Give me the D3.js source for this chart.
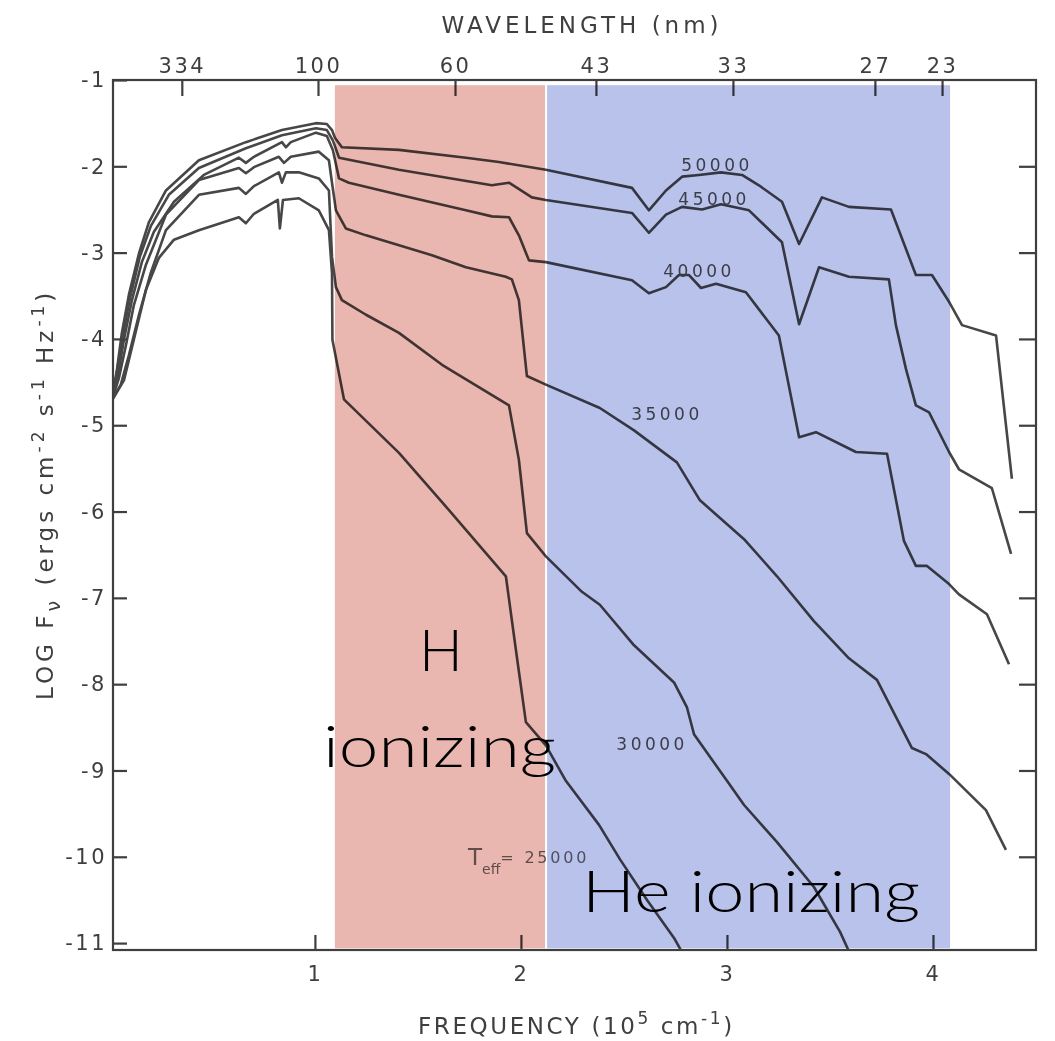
<!DOCTYPE html>
<html>
<head>
<meta charset="utf-8">
<script src="https://cdn.jsdelivr.net/npm/d3@7"></script>
<style>
  body { margin: 0; background: #fff; }
  svg text { font-family: "DejaVu Sans", sans-serif; }
  svg text.big { font-family: Lato, sans-serif; font-weight: 300; }
</style>
</head>
<body>
<svg id="chart"></svg>
<script>
// model atmospheres, effective temperature (K)
var temps = [50000, 45000, 40000, 35000, 30000, 25000];

// frequency (10^5 cm^-1) and log F_nu
var nu50 = [0.015,0.039,0.063,0.097,0.146,0.194,0.277,0.437,0.665,0.840,1.005,1.058,1.083,1.097,1.131,1.408,1.733,1.893,2.121,2.539,2.621,2.704,2.782,2.864,2.971,3.073,3.155,3.267,3.350,3.461,3.592,3.796,3.917,3.995,4.078,4.141,4.306,4.383];
var logF50 = [-4.71,-4.36,-3.93,-3.49,-3.01,-2.65,-2.28,-1.93,-1.72,-1.58,-1.50,-1.51,-1.58,-1.67,-1.78,-1.81,-1.90,-1.95,-2.04,-2.25,-2.51,-2.28,-2.12,-2.10,-2.07,-2.10,-2.22,-2.41,-2.90,-2.36,-2.47,-2.50,-3.26,-3.26,-3.57,-3.84,-3.96,-5.62];

var nu45 = [0.015,0.039,0.068,0.102,0.150,0.204,0.291,0.437,0.665,0.840,1.005,1.058,1.087,1.117,1.408,1.859,1.942,2.053,2.121,2.539,2.621,2.704,2.782,2.879,2.971,3.107,3.267,3.350,3.447,3.592,3.786,3.820,3.869,3.917,3.981,4.078,4.126,4.286,4.379];
var logF45 = [-4.71,-4.38,-3.96,-3.53,-3.05,-2.69,-2.33,-2.02,-1.79,-1.64,-1.56,-1.58,-1.70,-1.90,-2.04,-2.22,-2.19,-2.36,-2.39,-2.54,-2.77,-2.56,-2.47,-2.50,-2.44,-2.51,-2.88,-3.83,-3.17,-3.28,-3.31,-3.84,-4.35,-4.77,-4.85,-5.31,-5.51,-5.73,-6.49];

var nu40 = [0.015,0.044,0.073,0.112,0.160,0.218,0.316,0.461,0.631,0.665,0.704,0.840,0.859,0.883,1.005,1.058,1.087,1.117,1.165,1.408,1.733,1.859,1.942,1.990,2.039,2.121,2.539,2.621,2.704,2.767,2.816,2.874,2.947,3.092,3.252,3.350,3.432,3.626,3.777,3.859,3.917,3.971,4.078,4.126,4.262,4.369];
var logF40 = [-4.71,-4.42,-4.01,-3.55,-3.11,-2.76,-2.41,-2.10,-1.90,-1.96,-1.89,-1.72,-1.78,-1.72,-1.61,-1.65,-1.81,-2.14,-2.19,-2.33,-2.51,-2.58,-2.59,-2.80,-3.09,-3.11,-3.32,-3.47,-3.40,-3.26,-3.26,-3.41,-3.36,-3.46,-3.96,-5.14,-5.08,-5.31,-5.33,-6.34,-6.63,-6.63,-6.84,-6.96,-7.19,-7.77];

var nu35 = [0.015,0.049,0.083,0.121,0.180,0.277,0.437,0.631,0.665,0.704,0.825,0.850,0.883,1.019,1.068,1.083,1.102,1.150,1.248,1.568,1.733,1.927,1.956,1.990,2.029,2.121,2.383,2.549,2.757,2.869,3.083,3.243,3.422,3.592,3.728,3.898,3.966,4.078,4.257,4.354];
var logF35 = [-4.71,-4.45,-4.07,-3.61,-3.14,-2.56,-2.16,-2.02,-2.08,-2.01,-1.89,-1.96,-1.89,-1.83,-1.93,-2.19,-2.51,-2.72,-2.80,-3.03,-3.17,-3.28,-3.31,-3.55,-4.43,-4.53,-4.80,-5.06,-5.43,-5.87,-6.32,-6.75,-7.27,-7.70,-7.95,-8.74,-8.81,-9.04,-9.46,-9.92];

var nu30 = [0.015,0.058,0.097,0.146,0.204,0.277,0.437,0.631,0.665,0.704,0.825,0.840,0.859,0.922,1.019,1.068,1.083,1.102,1.131,1.248,1.408,1.617,1.942,1.990,2.029,2.121,2.296,2.383,2.549,2.743,2.806,2.840,3.000,3.083,3.243,3.422,3.549,3.631];
var logF30 = [-4.71,-4.53,-4.19,-3.72,-3.23,-2.74,-2.33,-2.25,-2.32,-2.23,-2.07,-2.19,-2.07,-2.07,-2.14,-2.28,-3.05,-3.40,-3.55,-3.72,-3.93,-4.30,-4.77,-5.40,-6.25,-6.52,-6.93,-7.08,-7.55,-7.98,-8.27,-8.58,-9.12,-9.40,-9.83,-10.35,-10.87,-11.30];

var nu25 = [0.015,0.073,0.121,0.180,0.243,0.316,0.437,0.631,0.665,0.704,0.820,0.830,0.845,0.922,1.019,1.068,1.083,1.085,1.141,1.408,1.617,1.927,1.976,2.024,2.121,2.218,2.379,2.481,2.612,2.743,2.816];
var logF25 = [-4.71,-4.48,-4.01,-3.43,-3.06,-2.85,-2.74,-2.59,-2.66,-2.55,-2.39,-2.72,-2.39,-2.37,-2.51,-2.74,-3.24,-4.01,-4.70,-5.32,-5.89,-6.75,-7.61,-8.44,-8.71,-9.12,-9.63,-10.03,-10.50,-10.94,-11.25];

// tick labels
var yTicks = [-1,-2,-3,-4,-5,-6,-7,-8,-9,-10,-11];
var xTicks = [1, 2, 3, 4];
var wlLabels = [334, 100, 60, 43, 33, 27, 23];           // nm
var wlFreq = [0.354, 1.015, 1.68, 2.364, 3.029, 3.718, 4.044];

// ionizing bands (frequency range)
var bandNames = ['H', 'He'];
var bandStart = [1.097, 2.127];
var bandEnd = [2.117, 4.083];
var bandColors = ['#e9b7b0', '#b9c2ea'];

var width = 1055;
var height = 1041;
var plot = {left: 113, right: 1036, top: 80, bottom: 950};
var ink = '#3f3f3f';

var x = d3.scaleLinear().domain([0.02, 4.5]).range([plot.left, plot.right]);
var y = d3.scaleLinear().domain([-1, -11.08]).range([plot.top, plot.bottom]);

var svg = d3.select('#chart')
    .attr('width', width)
    .attr('height', height);

svg.append('rect')
    .attr('width', width)
    .attr('height', height)
    .attr('fill', '#fff');

svg.append('clipPath')
    .attr('id', 'plotclip')
  .append('rect')
    .attr('x', plot.left)
    .attr('y', plot.top)
    .attr('width', plot.right - plot.left)
    .attr('height', plot.bottom - plot.top);

var nus = [nu50, nu45, nu40, nu35, nu30, nu25];
var logs = [logF50, logF45, logF40, logF35, logF30, logF25];
var series = temps.map(function(t, i) {
  return {t: t, pts: d3.zip(nus[i], logs[i])};
});

var line = d3.line()
    .x(d => x(d[0]))
    .y(d => y(d[1]));

svg.append('g')
    .attr('clip-path', 'url(#plotclip)')
  .selectAll('path')
  .data(series)
  .enter()
  .append('path')
    .attr('d', d => line(d.pts))
    .attr('fill', 'none')
    .attr('stroke', '#474747')
    .attr('stroke-width', 2.6)
    .attr('stroke-linejoin', 'round');

// frame
svg.append('rect')
    .attr('x', plot.left)
    .attr('y', plot.top)
    .attr('width', plot.right - plot.left)
    .attr('height', plot.bottom - plot.top)
    .attr('fill', 'none')
    .attr('stroke', ink)
    .attr('stroke-width', 2.2);

function styleAxis(g) {
  g.select('.domain').remove();
  g.selectAll('.tick line').attr('stroke', ink).attr('stroke-width', 2.2);
  g.selectAll('.tick text')
      .attr('fill', ink)
      .style('font-size', '21px')
      .style('letter-spacing', '2.5px');
}

svg.append('g')
    .attr('transform', 'translate(' + plot.left + ',0)')
    .call(d3.axisLeft(y).tickValues(yTicks).tickSizeInner(-14).tickSizeOuter(0)
      .tickPadding(6).tickFormat(d => String(d)))
    .call(styleAxis);

svg.append('g')
    .attr('transform', 'translate(' + plot.right + ',0)')
    .call(d3.axisRight(y).tickValues(yTicks.slice(1, -1)).tickSizeInner(-17).tickSizeOuter(0)
      .tickFormat(''))
    .call(styleAxis);

svg.append('g')
    .attr('transform', 'translate(0,' + plot.bottom + ')')
    .call(d3.axisBottom(x).tickValues(xTicks).tickSizeInner(-15).tickSizeOuter(0)
      .tickPadding(16).tickFormat(d3.format('d')))
    .call(styleAxis);

svg.append('g')
    .attr('transform', 'translate(0,' + plot.top + ')')
    .call(d3.axisTop(x).tickValues(wlFreq).tickSizeInner(-16).tickSizeOuter(0)
      .tickPadding(7).tickFormat((d, i) => wlLabels[i]))
    .call(styleAxis);

// axis titles
svg.append('text')
    .attr('x', 582)
    .attr('y', 33)
    .attr('text-anchor', 'middle')
    .attr('fill', ink)
    .style('font-size', '23px')
    .style('letter-spacing', '4px')
    .text('WAVELENGTH (nm)');

var xt = svg.append('text')
    .attr('x', 418)
    .attr('y', 1034)
    .attr('fill', ink)
    .style('font-size', '23px')
    .style('letter-spacing', '2.6px');
xt.append('tspan').text('FREQUENCY (10');
xt.append('tspan').attr('dy', -10).style('font-size', '17px').text('5');
xt.append('tspan').attr('dy', 10).text(' cm');
xt.append('tspan').attr('dy', -10).style('font-size', '17px').text('-1');
xt.append('tspan').attr('dy', 10).text(')');

var yt = svg.append('text')
    .attr('transform', 'translate(53,700) rotate(-90)')
    .attr('fill', ink)
    .style('font-size', '23px')
    .style('letter-spacing', '4px');
yt.append('tspan').text('LOG F');
yt.append('tspan').attr('dy', 7).style('font-size', '19px').text('\u03bd');
yt.append('tspan').attr('dy', -7).text(' (ergs cm');
yt.append('tspan').attr('dy', -9).style('font-size', '17px').text('-2');
yt.append('tspan').attr('dy', 9).text(' s');
yt.append('tspan').attr('dy', -9).style('font-size', '17px').text('-1');
yt.append('tspan').attr('dy', 9).text(' Hz');
yt.append('tspan').attr('dy', -9).style('font-size', '17px').text('-1');
yt.append('tspan').attr('dy', 9).text(')');

// temperature labels on the curves
var curveLabels = [
  {t: 50000, f: 2.942, v: -2.05},
  {t: 45000, f: 2.928, v: -2.45},
  {t: 40000, f: 2.855, v: -3.28},
  {t: 35000, f: 2.699, v: -4.94},
  {t: 30000, f: 2.627, v: -8.76}
];
svg.append('g')
  .selectAll('text')
  .data(curveLabels)
  .enter()
  .append('text')
    .attr('x', d => x(d.f) + 2)
    .attr('y', d => y(d.v))
    .attr('text-anchor', 'middle')
    .attr('fill', '#505050')
    .style('font-size', '17px')
    .style('letter-spacing', '3.5px')
    .text(d => d.t);

var tl = svg.append('text')
    .attr('x', x(1.743))
    .attr('y', y(-10.1))
    .attr('fill', '#6a6a6a');
tl.append('tspan').style('font-size', '23px').text('T');
tl.append('tspan').attr('dy', 9).style('font-size', '14px').text('eff');
tl.append('tspan').attr('dy', -11).style('font-size', '16px').style('letter-spacing', '2.8px').text('= 25000');

// ionizing bands, multiplied over the figure
svg.append('g')
  .selectAll('rect')
  .data(bandNames)
  .enter()
  .append('rect')
    .attr('x', (d, i) => x(bandStart[i]))
    .attr('y', y(-1.06))
    .attr('width', (d, i) => x(bandEnd[i]) - x(bandStart[i]))
    .attr('height', y(-11.06) - y(-1.06))
    .attr('fill', (d, i) => bandColors[i])
    .style('mix-blend-mode', 'multiply');

var big = svg.append('g')
    .attr('fill', '#000');
big.append('text').attr('class', 'big').attr('x', 441).attr('y', 671)
    .attr('text-anchor', 'middle').style('font-size', '58px').text('H');
big.append('text').attr('class', 'big').attr('x', 323).attr('y', 767)
    .attr('textLength', 233).attr('lengthAdjust', 'spacingAndGlyphs')
    .style('font-size', '58px').text('ionizing');
big.append('text').attr('class', 'big').attr('x', 582).attr('y', 912)
    .attr('textLength', 338).attr('lengthAdjust', 'spacingAndGlyphs')
    .style('font-size', '58px').text('He ionizing');
</script>
</body>
</html>
